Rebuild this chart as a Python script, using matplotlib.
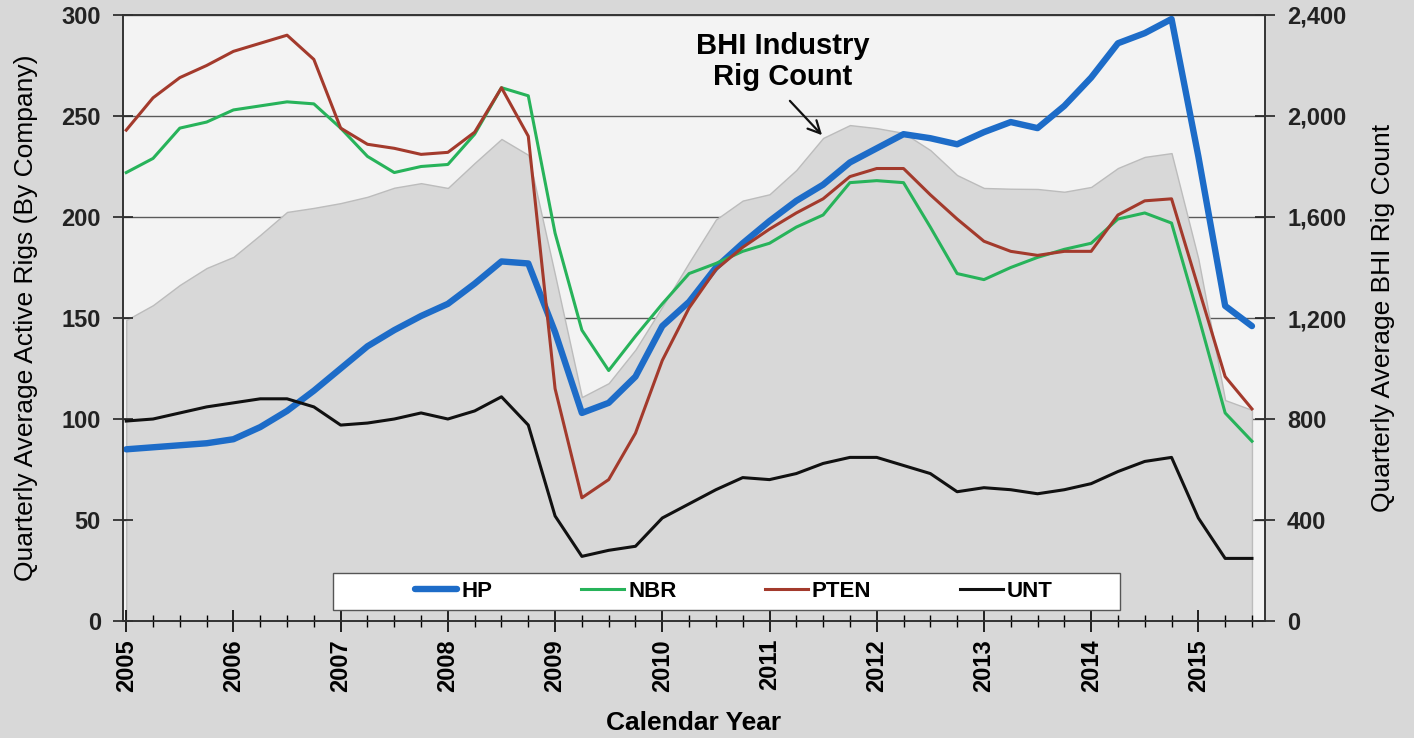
import numpy as np
import matplotlib.pyplot as plt
from matplotlib.patches import Rectangle
from matplotlib.ticker import FuncFormatter, MultipleLocator

# quarterly time axis
quarters = [2005.00, 2005.25, 2005.50, 2005.75, 2006.00, 2006.25, 2006.50, 2006.75,
            2007.00, 2007.25, 2007.50, 2007.75, 2008.00, 2008.25, 2008.50, 2008.75,
            2009.00, 2009.25, 2009.50, 2009.75, 2010.00, 2010.25, 2010.50, 2010.75,
            2011.00, 2011.25, 2011.50, 2011.75, 2012.00, 2012.25, 2012.50, 2012.75,
            2013.00, 2013.25, 2013.50, 2013.75, 2014.00, 2014.25, 2014.50, 2014.75,
            2015.00, 2015.25, 2015.50]

hp = [85, 86, 87, 88, 90, 96, 104, 114,
      125, 136, 144, 151, 157, 167, 178, 177,
      143, 103, 108, 121, 146, 158, 175, 187,
      198, 208, 216, 227, 234, 241, 239, 236,
      242, 247, 244, 255, 269, 286, 291, 298,
      230, 156, 146]

nbr = [222, 229, 244, 247, 253, 255, 257, 256,
       244, 230, 222, 225, 226, 241, 264, 260,
       192, 144, 124, 141, 157, 172, 177, 183,
       187, 195, 201, 217, 218, 217, 195, 172,
       169, 175, 180, 184, 187, 199, 202, 197,
       151, 103, 89]

pten = [243, 259, 269, 275, 282, 286, 290, 278,
        244, 236, 234, 231, 232, 242, 264, 240,
        115, 61, 70, 93, 129, 155, 174, 185,
        194, 202, 209, 220, 224, 224, 211, 199,
        188, 183, 181, 183, 183, 201, 208, 209,
        165, 121, 105]

unt = [99, 100, 103, 106, 108, 110, 110, 106,
       97, 98, 100, 103, 100, 104, 111, 97,
       52, 32, 35, 37, 51, 58, 65, 71,
       70, 73, 78, 81, 81, 77, 73, 64,
       66, 65, 63, 65, 68, 74, 79, 81,
       51, 31, 31]

bhi = [1192, 1251, 1331, 1398, 1442, 1529, 1620, 1636,
       1655, 1680, 1716, 1734, 1715, 1814, 1909, 1846,
       1370, 887, 942, 1075, 1245, 1420, 1590, 1665,
       1690, 1786, 1913, 1964, 1952, 1933, 1865, 1766,
       1715, 1712, 1711, 1700, 1719, 1794, 1838, 1853,
       1434, 875, 836]

years = list(range(2005, 2016))

plt.rcParams['font.family'] = ['Liberation Sans', 'DejaVu Sans']
narrow = ['Liberation Sans Narrow', 'Liberation Sans']

fig = plt.figure(figsize=(14.14, 7.38), dpi=100, facecolor='#d8d8d8')
ax = fig.add_axes([0.087, 0.1585, 0.8075, 0.8212])
ax2 = ax.twinx()

# industry rig count as the grey area on the right axis, behind the company lines
ax2.patch.set_visible(True)
ax2.patch.set_facecolor('#f3f3f3')
ax2.fill_between(quarters, 0, bhi, facecolor='#d8d8d8', edgecolor='#bcbcbc', linewidth=1.0, zorder=2)
ax2.set_ylim(0, 2400)
ax2.yaxis.set_major_locator(MultipleLocator(400))
ax2.yaxis.set_major_formatter(FuncFormatter(lambda v, p: f'{int(v):,}'))
ax2.grid(axis='y', color='#5a5a5a', linewidth=1.0, zorder=1)
ax2.set_axisbelow(True)
ax2.set_ylabel('Quarterly Average BHI Rig Count', fontsize=19, labelpad=18)

ax.set_zorder(ax2.get_zorder() + 1)
ax.patch.set_visible(False)

ax.plot(quarters, hp, color='#1d6cc8', linewidth=4.6, label='HP', solid_capstyle='round')
ax.plot(quarters, nbr, color='#27b35a', linewidth=2.2, label='NBR')
ax.plot(quarters, pten, color='#a33a2c', linewidth=2.2, label='PTEN')
ax.plot(quarters, unt, color='#111111', linewidth=2.2, label='UNT')

ax.set_xlim(2004.97, 2015.62)
ax.set_ylim(0, 300)
ax.yaxis.set_major_locator(MultipleLocator(50))
ax.set_xticks(years)
ax.set_xticklabels([str(y) for y in years], rotation=90)
ax.xaxis.set_minor_locator(MultipleLocator(0.25))
ax.set_ylabel('Quarterly Average Active Rigs (By Company)', fontsize=19, labelpad=17)
ax.set_xlabel('Calendar Year', fontsize=19, fontweight='bold', family=narrow, labelpad=14)

for a in (ax, ax2):
    for s in a.spines.values():
        s.set_color('#333333')
        s.set_linewidth(1.2)
    a.tick_params(axis='y', direction='inout', length=14, width=1.2, pad=9, labelsize=17, colors='#222222')
    for lbl in a.get_yticklabels():
        lbl.set_fontweight('bold')
ax.tick_params(axis='x', which='major', direction='inout', length=16, width=1.2, pad=5, labelsize=17)
ax.tick_params(axis='x', which='minor', direction='inout', length=8, width=1.0)
for lbl in ax.get_xticklabels():
    lbl.set_fontweight('bold')

ax.text(2011.12, 277, 'BHI Industry\nRig Count', ha='center', va='center',
        fontsize=21, fontweight='bold', linespacing=1.1)
ax.annotate('', xy=(2011.49, 240.5), xytext=(2011.19, 257.5),
            arrowprops=dict(arrowstyle='->', color='#111111', lw=1.6, shrinkA=0, shrinkB=0,
                            mutation_scale=22))

# legend box spans wider than its entries
ax.add_patch(Rectangle((0.184, 0.018), 0.689, 0.061, transform=ax.transAxes,
                       facecolor='white', edgecolor='#555555', linewidth=1.0, zorder=4))
leg = ax.legend(loc='center', bbox_to_anchor=(0.535, 0.0485), ncol=4, frameon=False,
                handlelength=1.9, handletextpad=0.2, columnspacing=4.0, borderaxespad=0,
                prop={'family': narrow, 'weight': 'bold', 'size': 16})
leg.set_zorder(5)

fig.savefig('out.png', dpi=100, facecolor=fig.get_facecolor())
